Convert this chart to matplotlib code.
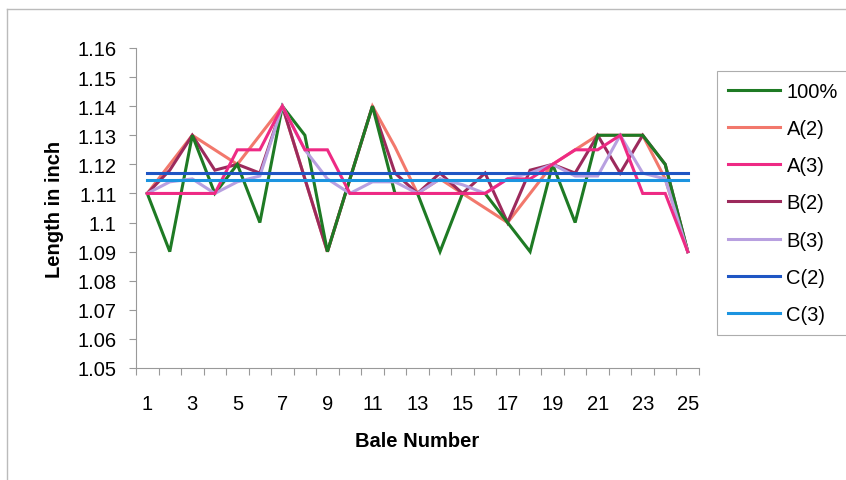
import numpy as np
import matplotlib
matplotlib.use("Agg")
import matplotlib.pyplot as plt
from matplotlib.lines import Line2D

plt.rcParams['font.family'] = ['Liberation Sans', 'DejaVu Sans']

# data
bales = list(range(1, 26))
pct100 = [1.11, 1.09, 1.13, 1.11, 1.12, 1.10, 1.14, 1.13, 1.09, 1.115, 1.14, 1.11, 1.11,
          1.09, 1.11, 1.11, 1.10, 1.09, 1.12, 1.10, 1.13, 1.13, 1.13, 1.12, 1.09]
a2 = [1.11, 1.12, 1.13, 1.125, 1.12, 1.13, 1.14, 1.115, 1.09, 1.115, 1.14, 1.126, 1.11,
      1.115, 1.11, 1.105, 1.10, 1.11, 1.12, 1.125, 1.13, 1.13, 1.13, 1.115, 1.09]
a3 = [1.11, 1.11, 1.11, 1.11, 1.125, 1.125, 1.14, 1.125, 1.125, 1.11, 1.11, 1.11, 1.11,
      1.11, 1.11, 1.11, 1.115, 1.115, 1.12, 1.125, 1.125, 1.13, 1.11, 1.11, 1.09]
b2 = [1.11, 1.118, 1.13, 1.118, 1.12, 1.117, 1.14, 1.115, 1.09, 1.115, 1.14, 1.117, 1.11,
      1.117, 1.11, 1.117, 1.10, 1.118, 1.12, 1.117, 1.13, 1.117, 1.13, 1.12, 1.09]
b3 = [1.11, 1.114, 1.115, 1.11, 1.114, 1.116, 1.14, 1.125, 1.115, 1.11, 1.114, 1.114, 1.11,
      1.115, 1.113, 1.11, 1.115, 1.117, 1.12, 1.116, 1.116, 1.13, 1.117, 1.115, 1.09]
c2 = [1.117] * 25
c3 = [1.1145] * 25

series = [
    ("100%", pct100, "#1e7a24"),
    ("A(2)", a2, "#f2786c"),
    ("A(3)", a3, "#ee2a84"),
    ("B(2)", b2, "#9c2a5c"),
    ("B(3)", b3, "#b8a0e0"),
    ("C(2)", c2, "#1f56c4"),
    ("C(3)", c3, "#1c94e0"),
]
draw_order = [1, 3, 0, 4, 2, 5, 6]

fig = plt.figure(figsize=(8.46, 4.81), dpi=100)
ax = fig.add_axes([136 / 846, 1 - 369 / 481, 563 / 846, 320 / 481])

for i in draw_order:
    name, vals, col = series[i]
    ax.plot(bales, vals, color=col, lw=2.2, solid_joinstyle='miter')

ax.set_xlim(0.5, 25.5)
ax.set_ylim(1.05, 1.16)
ax.set_xticks(bales[::2])
ax.set_xticklabels([str(b) for b in bales[::2]])
ax.set_xticks(np.arange(0.5, 26, 1), minor=True)
ax.tick_params(axis='x', which='major', length=0, pad=19, labelsize=14.5)
ax.tick_params(axis='x', which='minor', length=5, width=0.8, color='#999999')
yt = np.round(np.arange(1.05, 1.1601, 0.01), 2)
ax.set_yticks(yt)
ax.set_yticklabels(['%g' % v for v in yt])
ax.tick_params(axis='y', length=5, width=0.8, color='#999999', pad=9, labelsize=14.5)

for s in ['top', 'right']:
    ax.spines[s].set_visible(False)
for s in ['left', 'bottom']:
    ax.spines[s].set_color('#999999')
    ax.spines[s].set_linewidth(0.8)

ax.set_ylabel("Length in inch", fontsize=14.5, fontweight='bold', labelpad=10)
ax.set_xlabel("Bale Number", fontsize=14.5, fontweight='bold', labelpad=13)

handles = [Line2D([0], [0], color=c, lw=2.2) for _, _, c in series]
labels = [n for n, _, _ in series]
leg = fig.legend(handles, labels, loc='upper left', bbox_to_anchor=(717 / 846, 1 - 72 / 481),
                 fontsize=14.5, frameon=True, fancybox=False, edgecolor='#999999',
                 handlelength=2.6, handletextpad=0.3, labelspacing=0.9, borderpad=0.55,
                 borderaxespad=0)
leg.get_frame().set_linewidth(0.8)

# outer chart border (left and top visible)
fig.add_artist(Line2D([7 / 846, 7 / 846], [0, 1 - 10 / 481], transform=fig.transFigure,
                      color='#bbbbbb', lw=1))
fig.add_artist(Line2D([7 / 846, 1], [1 - 10 / 481, 1 - 10 / 481], transform=fig.transFigure,
                      color='#bbbbbb', lw=1))

fig.savefig("out.png", dpi=100)
